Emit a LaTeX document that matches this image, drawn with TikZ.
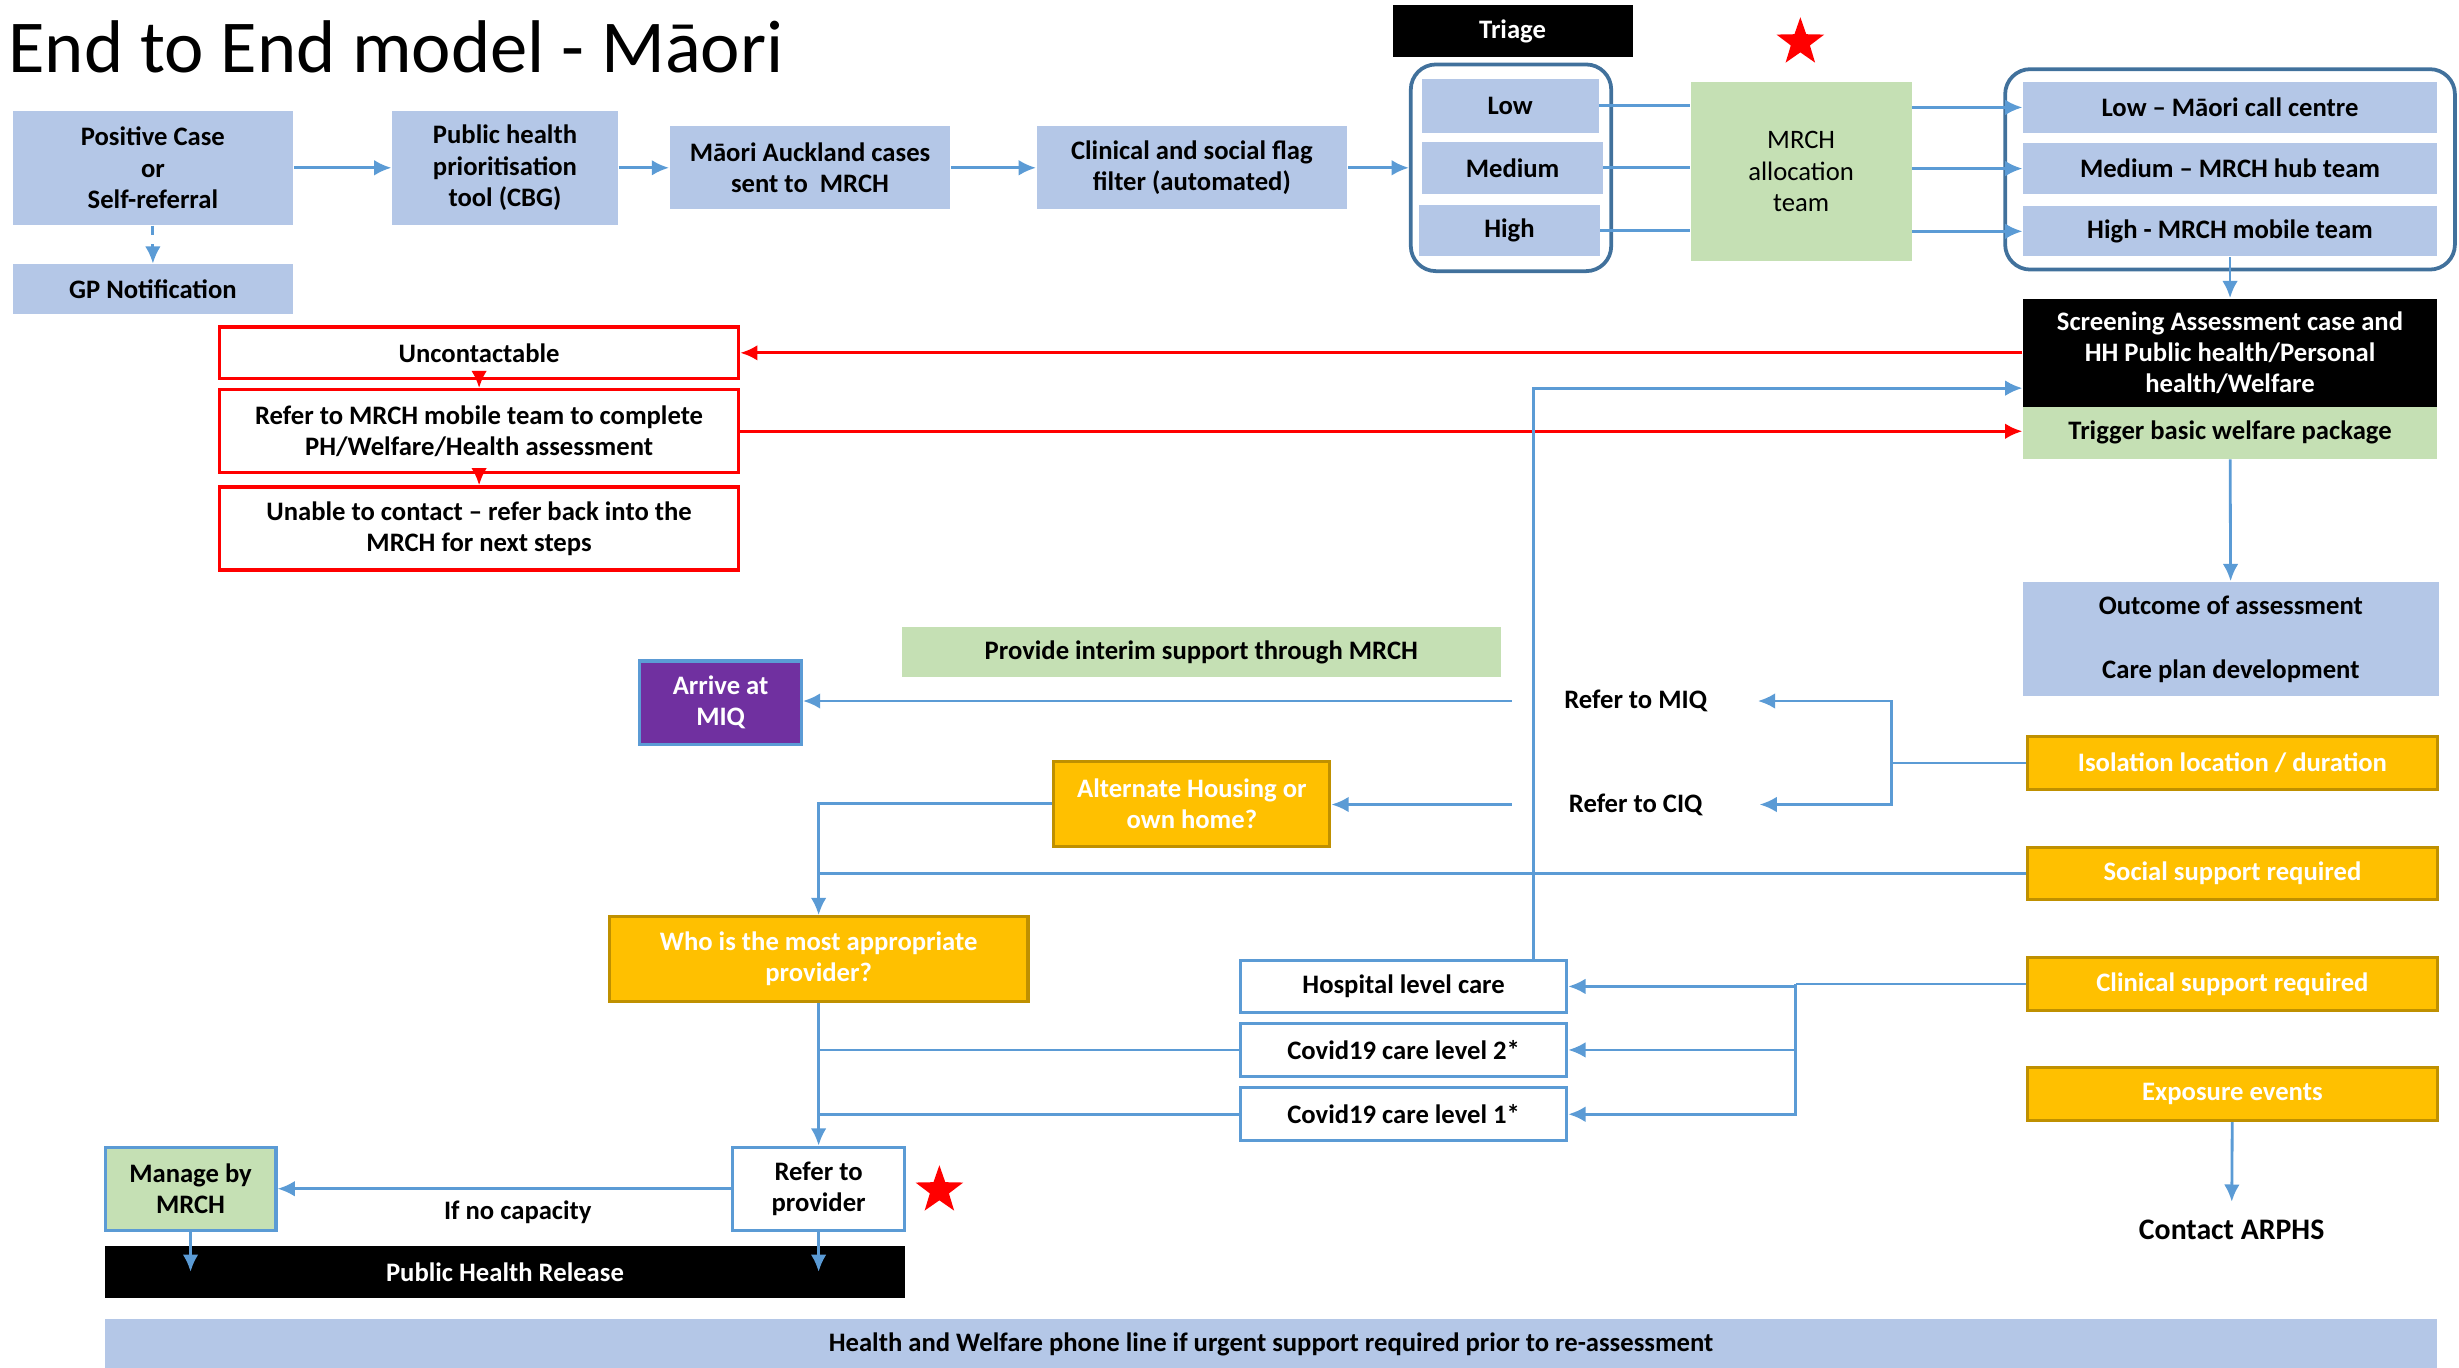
\documentclass[tikz,border=0pt]{standalone}
\usepackage{fontspec}
\setmainfont{Carlito}
\usetikzlibrary{fit, positioning, shapes.geometric, arrows.meta}

\definecolor{boxblue}{HTML}{B4C7E7}
\definecolor{boxgreen}{HTML}{C5E0B4}
\definecolor{boxorange}{HTML}{FFC000}
\definecolor{edgeorange}{HTML}{BF9000}
\definecolor{lineblue}{HTML}{5B9BD5}
\definecolor{frameblue}{HTML}{41719C}
\definecolor{miqpurple}{HTML}{7030A0}

\begin{document}
\begin{tikzpicture}[x=0.5pt, y=-0.5pt]
\tikzstyle{base}=[rectangle, inner sep=0pt, align=center, font=\fontsize{8.5}{10}\selectfont\bfseries]
\tikzstyle{bluebox}=[base, fill=boxblue]
\tikzstyle{greenbox}=[base, fill=boxgreen]
\tikzstyle{orangebox}=[base, fill=boxorange, draw=edgeorange, line width=1pt, text=white]
\tikzstyle{whitebox}=[base, fill=white, draw=lineblue, line width=1pt]
\tikzstyle{redbox}=[base, fill=white, draw=red, line width=1pt]
\tikzstyle{blackbox}=[base, fill=black, text=white]
\tikzstyle{frame}=[rectangle, draw=frameblue, line width=1.2pt, rounded corners=8pt]
\tikzstyle{starmark}=[star, star points=5, star point ratio=2.5, fill=red, minimum size=16pt, inner sep=0pt]
\tikzstyle{connect}=[draw, lineblue, line width=0.9pt, -{Latex[length=5.5pt, width=5pt]}]
\tikzstyle{dashconnect}=[connect, dash pattern=on 3pt off 3pt]
\tikzstyle{link}=[draw, lineblue, line width=0.9pt]
\tikzstyle{redconnect}=[draw, red, line width=1pt, -{Latex[length=5.5pt, width=5pt]}]
\useasboundingbox (0,0) rectangle (1568,872);

\node[anchor=base west, inner sep=0pt, font=\fontsize{23.8}{28}\selectfont] (title) at (5,46) {End to End model - Māori};

% intake row
\node[bluebox, minimum width=89.5pt, minimum height=36.5pt] (pos) at (97.5,107) {Positive Case\\or\\Self-referral};
\node[bluebox, minimum width=89.5pt, minimum height=16pt] (gp) at (97.5,184.5) {GP Notification};
\node[bluebox, minimum width=72pt, minimum height=36.5pt] (phpt) at (322,107) {Public health\\prioritisation\\tool (CBG)};
\node[bluebox, minimum width=89.5pt, minimum height=26.5pt] (mac) at (516.5,107) {Māori Auckland cases\\sent to\ \ MRCH};
\node[bluebox, minimum width=99pt, minimum height=26.5pt] (csf) at (760,107) {Clinical and social flag\\filter (automated)};

% triage
\node[blackbox, minimum width=76.5pt, minimum height=16.5pt] (triage) at (964.5,20) {Triage};
\node[bluebox, minimum width=56.5pt, minimum height=17pt] (low) at (963,67.5) {Low};
\node[bluebox, minimum width=57.5pt, minimum height=16.5pt] (med) at (964.5,107) {Medium};
\node[bluebox, minimum width=57.5pt, minimum height=16.5pt] (high) at (962.5,147) {High};
\node[frame, fit=(low)(med)(high), inner xsep=2.5pt, inner ysep=4.5pt] (tribox) {};

\node[greenbox, font=\fontsize{8.5}{10}\selectfont, minimum width=70.5pt, minimum height=57pt] (mrch) at (1148.5,109.5) {MRCH\\allocation\\team};
\node[starmark] (star1) at (1148,27) {};

\node[bluebox, minimum width=132pt, minimum height=16pt] (lowc) at (1422,68.5) {Low -- Māori call centre};
\node[bluebox, minimum width=132pt, minimum height=16pt] (medc) at (1422,107.5) {Medium -- MRCH hub team};
\node[bluebox, minimum width=132pt, minimum height=16pt] (highc) at (1422,147.5) {High - MRCH mobile team};
\node[frame, fit=(lowc)(medc)(highc), inner xsep=5.5pt, inner ysep=4pt] (teambox) {};

% assessment
\node[blackbox, minimum width=132pt, minimum height=34.5pt] (screen) at (1422,225) {Screening Assessment case and\\HH Public health/Personal\\health/Welfare};
\node[greenbox, minimum width=132pt, minimum height=16.5pt] (trig) at (1422,276) {Trigger basic welfare package};
\node[bluebox, minimum width=132.5pt, minimum height=36.5pt] (outc) at (1422.5,407.5) {Outcome of assessment\\[10.5pt]Care plan development};

\node[redbox, minimum width=165.5pt, minimum height=16.5pt] (unc) at (305.5,225) {Uncontactable};
\node[redbox, minimum width=165.5pt, minimum height=26.5pt] (ref) at (305.5,275) {Refer to MRCH mobile team to complete\\PH/Welfare/Health assessment};
\node[redbox, minimum width=165.5pt, minimum height=26.5pt] (una) at (305.5,337) {Unable to contact -- refer back into the\\MRCH for next steps};

% outcomes
\node[greenbox, minimum width=191pt, minimum height=16pt] (interim) at (766,416) {Provide interim support through MRCH};
\node[base, fill=miqpurple, draw=lineblue, line width=1pt, text=white, minimum width=51.5pt, minimum height=26.5pt] (miq) at (459.5,448) {Arrive at\\MIQ};
\node[base] (rmiq) at (1043,447) {Refer to MIQ};
\node[base] (rciq) at (1043,513) {Refer to CIQ};
\node[orangebox, minimum width=130.5pt, minimum height=17pt] (iso) at (1423.5,486.5) {Isolation location / duration};
\node[orangebox, minimum width=88pt, minimum height=27pt] (alt) at (760,512.5) {Alternate Housing or\\own home?};
\node[orangebox, minimum width=130.5pt, minimum height=16.5pt] (soc) at (1423.5,557) {Social support required};
\node[orangebox, minimum width=133.5pt, minimum height=27pt] (who) at (522,611.5) {Who is the most appropriate\\provider?};
\node[whitebox, minimum width=104pt, minimum height=16.5pt] (hosp) at (895,629) {Hospital level care};
\node[whitebox, minimum width=104pt, minimum height=17pt] (cov2) at (895,669.5) {Covid19 care level 2*};
\node[whitebox, minimum width=104pt, minimum height=17pt] (cov1) at (895,710.5) {Covid19 care level 1*};
\node[orangebox, minimum width=130.5pt, minimum height=17pt] (clin) at (1423.5,627.5) {Clinical support required};
\node[orangebox, minimum width=130.5pt, minimum height=17pt] (expo) at (1423.5,697.5) {Exposure events};
\node[base, font=\fontsize{9.5}{11}\selectfont\bfseries] (arphs) at (1423,784) {Contact ARPHS};

\node[whitebox, minimum width=55pt, minimum height=26.5pt] (rprov) at (522,758) {Refer to\\provider};
\node[starmark] (star2) at (599,759) {};
\node[greenbox, draw=lineblue, line width=1pt, minimum width=54.5pt, minimum height=26.5pt] (manage) at (121.5,758) {Manage by\\MRCH};
\node[blackbox, minimum width=255pt, minimum height=16.5pt] (phr) at (322,811) {Public Health Release};
\node[bluebox, minimum width=743.5pt, minimum height=16pt] (phone) at (810.5,857) {Health and Welfare phone line if urgent support required prior to re-assessment};

% connectors
\path (pos) edge [dashconnect] (gp)
      (pos) edge [connect] (phpt)
      (phpt) edge [connect] (mac)
      (mac) edge [connect] (csf)
      (csf) edge [connect] (tribox)
      (highc) edge [connect] (screen)
      (trig) edge [connect] (outc)
      (who) edge [connect] (rprov)
      (unc) edge [redconnect] (ref)
      (ref) edge [redconnect] (una);
\draw[link] (low.east) -- (low.east -| mrch.west);
\draw[link] (med.east) -- (med.east -| mrch.west);
\draw[link] (high.east) -- (high.east -| mrch.west);
\draw[connect] (mrch.east |- lowc) -- (lowc.west);
\draw[connect] (mrch.east |- medc) -- (medc.west);
\draw[connect] (mrch.east |- highc) -- (highc.west);
\draw[redconnect] (screen.west) -- (screen.west -| unc.east);
\draw[redconnect] (ref.east) -- (ref.east -| trig.west);
\draw[connect] ([xshift=-11pt]hosp.north east) |- ([yshift=-11.25pt]screen.west);
\draw[connect, shorten <=16.5pt] (rmiq.west) -- (rmiq.west -| miq.east);
\draw[connect, shorten <=18pt] (rciq.west) -- (rciq.west -| alt.east);
\draw[link] (iso.west) -- ++(-86,0) coordinate (isoj);
\draw[connect, shorten >=16pt] (isoj) |- (rmiq.east);
\draw[connect, shorten >=18pt] (isoj) |- (rciq.east);
\draw[connect] (alt.west) -| (who.north);
\draw[link] (soc.west) -- (soc.west -| who.north);
\draw[link] (clin.west) -- ++(-147,0) coordinate (clinj);
\draw[connect] (clinj) |- (hosp.east);
\draw[connect] (clinj) |- (cov2.east);
\draw[connect] (clinj) |- (cov1.east);
\draw[link] (cov2.west) -- (cov2.west -| who.south);
\draw[link] (cov1.west) -- (cov1.west -| who.south);
\draw[connect, shorten >=5.5pt] (expo) -- (arphs);
\draw[connect] (rprov) -- node[base, text=black, pos=0.47, yshift=-7.5pt] (nocap) {If no capacity} (manage);
\draw[connect] (manage.south) -- (manage.south |- phr.center);
\draw[connect] (rprov.south) -- (rprov.south |- phr.center);
\end{tikzpicture}
\end{document}
